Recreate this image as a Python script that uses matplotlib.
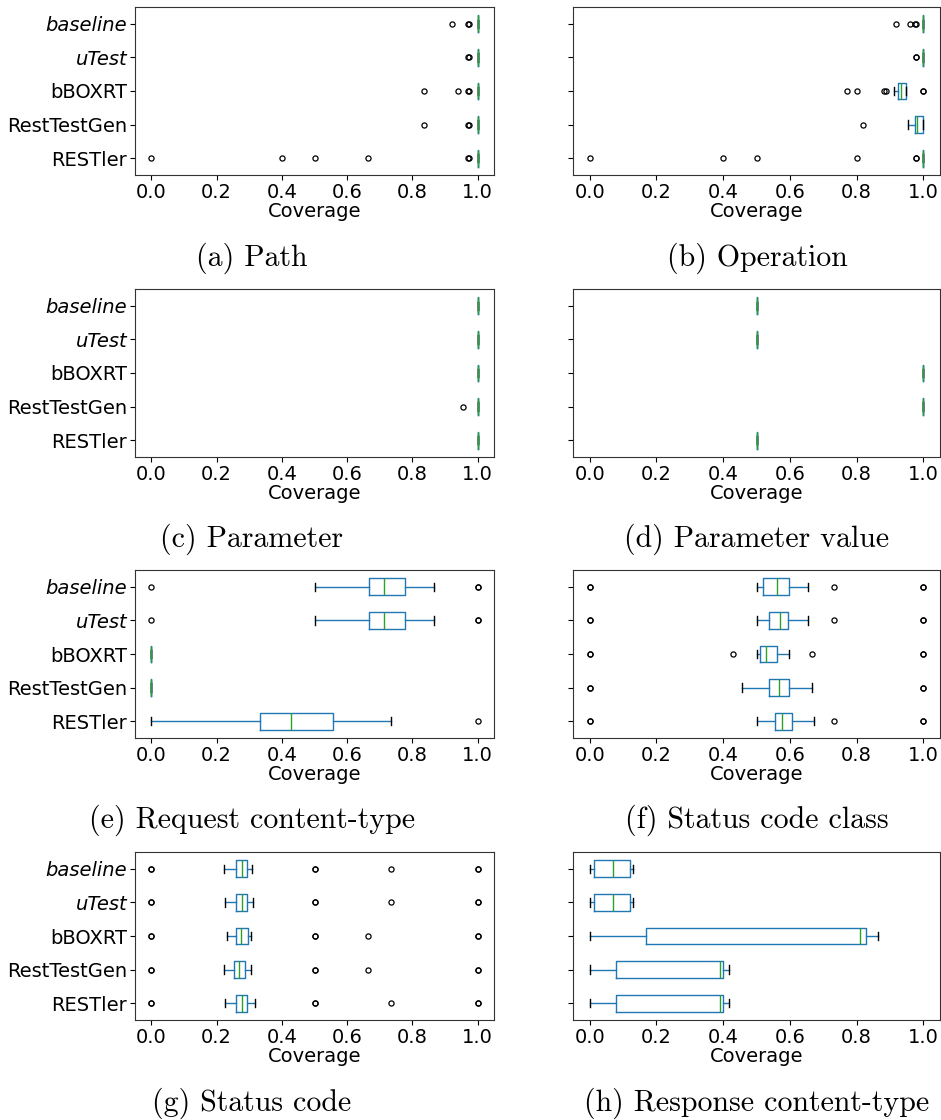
import matplotlib
matplotlib.use("Agg")
import matplotlib.pyplot as plt

tools = ["baseline", "uTest", "bBOXRT", "RestTestGen", "RESTler"]
italic_tools = ["baseline", "uTest"]
xticks = [0.0, 0.2, 0.4, 0.6, 0.8, 1.0]
xlabel = "Coverage"

# stats per tool: [whislo, q1, med, q3, whishi]
path_stats = [[1.0, 1.0, 1.0, 1.0, 1.0]] * 5
path_fliers = [[0.922, 0.971, 0.973], [0.971, 0.972], [0.834, 0.94, 0.971, 0.973],
               [0.834, 0.971, 0.972], [0.0, 0.4, 0.5, 0.665, 0.971, 0.972]]

op_stats = [[1.0, 1.0, 1.0, 1.0, 1.0], [1.0, 1.0, 1.0, 1.0, 1.0],
            [0.913, 0.925, 0.932, 0.948, 0.948], [0.955, 0.976, 0.981, 0.998, 1.0],
            [1.0, 1.0, 1.0, 1.0, 1.0]]
op_fliers = [[0.918, 0.96, 0.976, 0.978], [0.977, 0.978], [0.772, 0.80, 0.882, 0.887, 1.0, 1.0],
             [0.818], [0.0, 0.4, 0.5, 0.8, 0.977, 0.978]]

param_stats = [[1.0, 1.0, 1.0, 1.0, 1.0]] * 5
param_fliers = [[], [], [], [0.956], []]

pval_stats = [[0.5] * 5, [0.5] * 5, [1.0] * 5, [1.0] * 5, [0.5] * 5]
pval_fliers = [[], [], [], [], []]

req_stats = [[0.5, 0.667, 0.714, 0.778, 0.867], [0.5, 0.667, 0.714, 0.778, 0.867],
             [0.0] * 5, [0.0] * 5, [0.0, 0.333, 0.429, 0.556, 0.733]]
req_fliers = [[0.0, 1.0, 1.0], [0.0, 1.0, 1.0], [], [], [1.0]]

scc_stats = [[0.5, 0.518, 0.56, 0.596, 0.655], [0.5, 0.538, 0.57, 0.593, 0.655],
             [0.5, 0.511, 0.528, 0.56, 0.596], [0.456, 0.536, 0.568, 0.596, 0.666],
             [0.5, 0.556, 0.576, 0.606, 0.673]]
scc_fliers = [[0.0, 0.0, 0.733, 1.0, 1.0], [0.0, 0.0, 0.733, 1.0, 1.0],
              [0.0, 0.0, 0.431, 0.666, 1.0, 1.0], [0.0, 0.0, 1.0, 1.0],
              [0.0, 0.0, 0.733, 1.0, 1.0]]

sc_stats = [[0.222, 0.261, 0.278, 0.294, 0.31], [0.225, 0.261, 0.278, 0.293, 0.312],
            [0.233, 0.258, 0.276, 0.297, 0.304], [0.222, 0.254, 0.27, 0.288, 0.304],
            [0.225, 0.261, 0.278, 0.293, 0.317]]
sc_fliers = [[0.0, 0.0, 0.5, 0.5, 0.733, 1.0, 1.0], [0.0, 0.0, 0.5, 0.5, 0.733, 1.0, 1.0],
             [0.0, 0.0, 0.5, 0.5, 0.665, 1.0, 1.0], [0.0, 0.0, 0.5, 0.5, 0.665, 1.0, 1.0],
             [0.0, 0.0, 0.5, 0.5, 0.733, 1.0, 1.0]]

resp_stats = [[0.0, 0.013, 0.07, 0.12, 0.131], [0.0, 0.013, 0.07, 0.12, 0.131],
              [0.0, 0.168, 0.811, 0.828, 0.865], [0.0, 0.08, 0.39, 0.40, 0.418],
              [0.0, 0.08, 0.39, 0.40, 0.418]]
resp_fliers = [[], [], [], [], []]

panels = [
    ("(a) Path", path_stats, path_fliers),
    ("(b) Operation", op_stats, op_fliers),
    ("(c) Parameter", param_stats, param_fliers),
    ("(d) Parameter value", pval_stats, pval_fliers),
    ("(e) Request content-type", req_stats, req_fliers),
    ("(f) Status code class", scc_stats, scc_fliers),
    ("(g) Status code", sc_stats, sc_fliers),
    ("(h) Response content-type", resp_stats, resp_fliers),
]

W, H = 941, 1120
fig = plt.figure(figsize=(W / 100, H / 100), dpi=100)

col_x = [(135, 494), (573, 940)]
row_top = [7, 289, 570, 852]
ax_h = 168
cap_x = [252, 757]
cap_y = [258, 539, 820, 1103]

positions = [5, 4, 3, 2, 1]

for i, (caption, stats, fliers) in enumerate(panels):
    r, c = divmod(i, 2)
    x0, x1 = col_x[c]
    top = row_top[r]
    ax = fig.add_axes([x0 / W, 1 - (top + ax_h) / H, (x1 - x0) / W, ax_h / H])
    bstats = []
    for name, s, f in zip(tools, stats, fliers):
        bstats.append(dict(whislo=s[0], q1=s[1], med=s[2], q3=s[3], whishi=s[4],
                           fliers=f, label=name))
    kw = dict(positions=positions, widths=0.5, showfliers=True,
              boxprops=dict(color="#1f77b4", linewidth=1.0),
              whiskerprops=dict(color="#1f77b4", linewidth=1.0),
              capprops=dict(color="black", linewidth=1.0),
              medianprops=dict(color="#2ca02c", linewidth=1.0),
              flierprops=dict(marker="o", markerfacecolor="none",
                              markeredgecolor="black", markersize=3.7,
                              markeredgewidth=0.9))
    try:
        ax.bxp(bstats, orientation="horizontal", **kw)
    except TypeError:
        ax.bxp(bstats, vert=False, **kw)
    ax.set_xlim(-0.05, 1.05)
    ax.set_ylim(0.5, 5.5)
    ax.set_xticks(xticks)
    ax.set_xticklabels([f"{t:.1f}" for t in xticks])
    ax.set_yticks(positions)
    if c == 0:
        ax.set_yticklabels(tools)
        for lab in ax.get_yticklabels():
            if lab.get_text() in italic_tools:
                lab.set_fontstyle("italic")
    else:
        ax.set_yticklabels([])
    ax.tick_params(labelsize=14, pad=2)
    ax.set_xlabel(xlabel, fontsize=14, labelpad=0)
    for sp in ax.spines.values():
        sp.set_color("#333333")
    fig.text(cap_x[c] / W, 1 - cap_y[r] / H, caption, ha="center", va="center",
             fontsize=21.5, family="cmr10")

fig.savefig("out.png", dpi=100)
